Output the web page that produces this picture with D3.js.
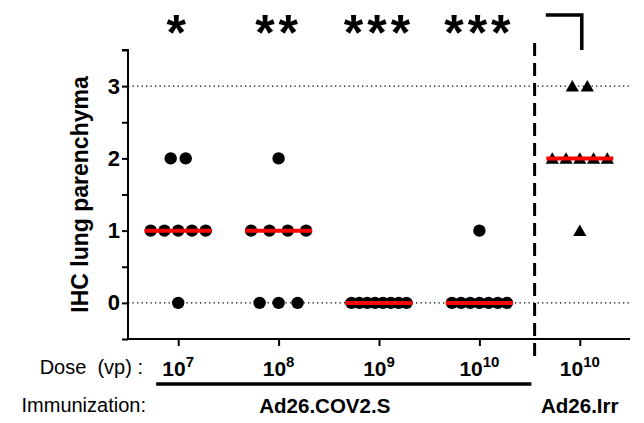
<!DOCTYPE html>
<html>
<head>
<meta charset="utf-8">
<script src="https://cdn.jsdelivr.net/npm/d3@7"></script>
<style>
  html, body { margin: 0; padding: 0; background: #fff; }
  svg { display: block; font-family: "Liberation Sans", Arial, sans-serif; }
</style>
</head>
<body>
<svg id="chart" width="644" height="423"></svg>
<script>
// ---- data ----
const groups = ["Ad26.COV2.S 1e7", "Ad26.COV2.S 1e8", "Ad26.COV2.S 1e9", "Ad26.COV2.S 1e10", "Ad26.Irr 1e10"];
const doseBase = ["10", "10", "10", "10", "10"];
const doseExp = ["7", "8", "9", "10", "10"];
const scoresDose7 = [2, 2, 1, 1, 1, 1, 1, 0];
const scoresDose8 = [2, 1, 1, 1, 1, 0, 0, 0];
const scoresDose9 = [0, 0, 0, 0, 0, 0, 0, 0];
const scoresDose10 = [1, 0, 0, 0, 0, 0, 0, 0];
const scoresIrr = [3, 3, 2, 2, 2, 2, 2, 1];
const significance = ["*", "**", "***", "***", ""];
const yTicks = [0, 1, 2, 3];
const yMinorTicks = [-0.5, 0.5, 1.5, 2.5, 3.5];
const gridValues = [0, 3];
const immunizations = ["Ad26.COV2.S", "Ad26.Irr"];
const yTitle = "IHC lung parenchyma";

const allScores = [scoresDose7, scoresDose8, scoresDose9, scoresDose10, scoresIrr];

// ---- layout ----
const svg = d3.select("#chart");
const x = d3.scaleLinear().domain([-0.5, 4.5]).range([128, 630]);
const y = d3.scaleLinear().domain([-0.5, 3.5]).range([339, 50]);

// gridlines (dotted)
svg.append("g").selectAll("line").data(gridValues).join("line")
  .attr("x1", x(-0.5)).attr("x2", x(4.5))
  .attr("y1", d => y(d)).attr("y2", d => y(d))
  .attr("stroke", "#000").attr("stroke-width", 1.3)
  .attr("stroke-dasharray", "1.3,3.2");

// y axis
const yAxis = svg.append("g").attr("transform", `translate(${x(-0.5)},0)`)
  .call(d3.axisLeft(y).tickValues(yTicks.concat(yMinorTicks)).tickSize(6).tickPadding(2)
    .tickFormat(d => yTicks.includes(d) ? d3.format("d")(d) : ""));
yAxis.select(".domain").attr("stroke-width", 2).attr("d", `M-6,${y(3.5)}H0V${y(-0.5)}`);
yAxis.selectAll(".tick line").attr("stroke-width", 2);
yAxis.selectAll(".tick text").attr("font-size", 22).attr("font-weight", "bold")
  .attr("font-family", "Liberation Sans, Arial, sans-serif");

// x axis
const xAxis = svg.append("g").attr("transform", `translate(0,${y(-0.5)})`)
  .call(d3.axisBottom(x).tickValues(d3.range(groups.length)).tickSize(7).tickFormat(""));
xAxis.select(".domain").attr("stroke-width", 2).attr("d", `M${x(-0.5)},0H${x(4.5)}`);
xAxis.selectAll(".tick line").attr("stroke-width", 2);

// dose labels
const doseLbl = svg.append("g").selectAll("text").data(groups).join("text")
  .attr("x", (d, i) => x(i)).attr("y", 376)
  .attr("text-anchor", "middle").attr("font-weight", "bold").attr("font-size", 21);
doseLbl.append("tspan").text((d, i) => doseBase[i]);
doseLbl.append("tspan").attr("dy", -9).attr("font-size", 15).text((d, i) => doseExp[i]);

// axis titles
svg.append("text").attr("transform", `translate(88,${(y(3.5) + y(-0.5)) / 2 + 0}) rotate(-90)`)
  .attr("text-anchor", "middle").attr("font-weight", "bold").attr("font-size", 23)
  .text(yTitle);
svg.append("text").attr("x", 143).attr("y", 374).attr("text-anchor", "end")
  .attr("font-size", 20).text("Dose  (vp) :").attr("xml:space", "preserve")
  .style("white-space", "pre");
svg.append("text").attr("x", 146).attr("y", 412).attr("text-anchor", "end")
  .attr("font-size", 20).text("Immunization:");

// immunization labels + underline
svg.append("line").attr("x1", x(0) - 22).attr("x2", x(3) + 52)
  .attr("y1", 384).attr("y2", 384).attr("stroke", "#000").attr("stroke-width", 3.5);
svg.append("text").attr("x", (x(0) + x(3)) / 2 - 4).attr("y", 413).attr("text-anchor", "middle")
  .attr("font-weight", "bold").attr("font-size", 20.5).text(immunizations[0]);
svg.append("text").attr("x", x(4)).attr("y", 413).attr("text-anchor", "middle")
  .attr("font-weight", "bold").attr("font-size", 20.5).text(immunizations[1]);

// dashed separator
svg.append("line").attr("x1", x(3.55)).attr("x2", x(3.55))
  .attr("y1", 43).attr("y2", 361)
  .attr("stroke", "#000").attr("stroke-width", 3).attr("stroke-dasharray", "13,7");

// bracket over control
svg.append("path").attr("d", `M${x(4) - 34},15H${x(4) + 2}V50`)
  .attr("fill", "none").attr("stroke", "#000").attr("stroke-width", 3.5);

// significance stars
svg.append("g").selectAll("text").data(significance).join("text")
  .attr("x", (d, i) => x(i)).attr("y", 50)
  .attr("text-anchor", "middle").attr("font-size", 50).attr("font-weight", "bold")
  .attr("letter-spacing", 4)
  .text(d => d);

// points: spread equal values side by side within the column
const pts = [];
allScores.forEach((arr, gi) => {
  const byVal = d3.group(arr, v => v);
  byVal.forEach((vals, v) => {
    const k = vals.length;
    const step = k > 1 ? Math.min(55 / (k - 1), 7 + 4 * k) : 0;
    vals.forEach((_, j) => {
      pts.push({ g: gi, v: v, dx: (j - (k - 1) / 2) * step });
    });
  });
});

const tri = d3.symbol().type(d3.symbolTriangle).size(76);
const ptG = svg.append("g");
ptG.selectAll("circle").data(pts.filter(p => p.g < 4)).join("circle")
  .attr("cx", p => x(p.g) + p.dx).attr("cy", p => y(p.v)).attr("r", 6.2).attr("fill", "#000");
ptG.selectAll("path").data(pts.filter(p => p.g === 4)).join("path")
  .attr("transform", p => `translate(${x(p.g) + p.dx},${y(p.v) + 1.5})`)
  .attr("d", tri).attr("fill", "#000");

// medians on top
svg.append("g").selectAll("line").data(allScores).join("line")
  .attr("x1", (d, i) => x(i) - 33.5).attr("x2", (d, i) => x(i) + 33.5)
  .attr("y1", d => y(d3.median(d))).attr("y2", d => y(d3.median(d)))
  .attr("stroke", "#ff0000").attr("stroke-width", 4);
</script>
</body>
</html>
